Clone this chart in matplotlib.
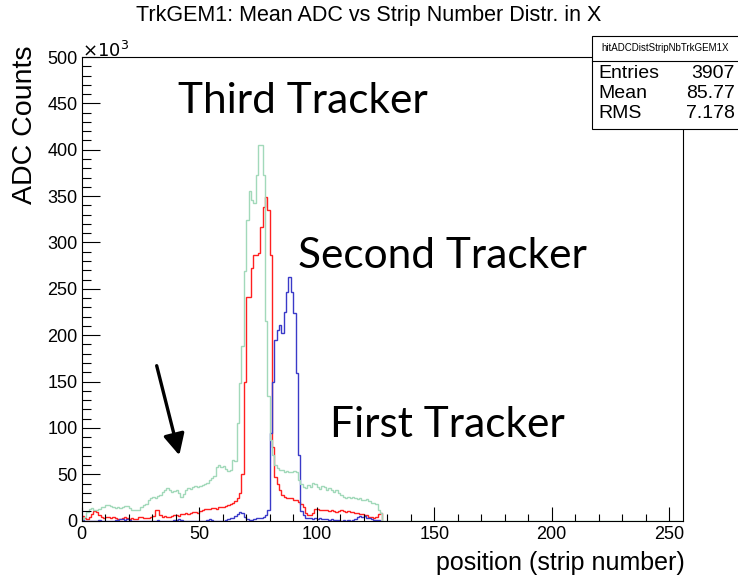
import matplotlib
matplotlib.use('Agg')
import matplotlib.pyplot as plt
import numpy as np
from matplotlib.patches import Rectangle
from matplotlib.lines import Line2D
from matplotlib.ticker import MultipleLocator

# ADC counts per strip, in units of 10^3, strips 0..127 (bins of 1 strip)
green_counts = [
    2, 4, 9, 13, 14, 11, 11, 13, 15, 15,
    17, 17, 16, 15, 14, 15, 14, 15, 16, 16,
    14, 12, 11, 11, 12, 15, 17, 18, 22, 24,
    26, 24, 27, 28, 31, 33, 35, 33, 31, 32,
    33, 30, 26, 29, 33, 35, 34, 36, 37, 36,
    37, 38, 40, 41, 44, 46, 48, 58, 60, 58,
    59, 56, 54, 55, 65, 64, 105, 148, 188, 269,
    324, 355, 346, 343, 373, 405, 405, 373, 215, 134,
    87, 71, 60, 57, 55, 55, 53, 54, 53, 52,
    54, 52, 44, 40, 36, 35, 38, 36, 41, 40,
    36, 34, 37, 36, 33, 35, 33, 31, 33, 30,
    28, 26, 25, 26, 25, 26, 25, 23, 24, 22,
    22, 23, 21, 19, 19, 18, 11, 8,
]
red_counts = [
    5, 3, 2, 4, 7, 10, 9, 6, 4, 3,
    4, 4, 3, 4, 3, 2, 2, 3, 4, 3,
    2, 3, 2, 2, 4, 4, 3, 3, 3, 4,
    5, 11, 11, 6, 4, 5, 4, 4, 5, 6,
    6, 5, 7, 7, 8, 7, 8, 9, 9, 8,
    10, 12, 13, 13, 13, 14, 14, 13, 15, 15,
    15, 16, 17, 18, 19, 21, 24, 30, 50, 150,
    241, 241, 272, 287, 287, 289, 317, 338, 349, 335,
    287, 80, 47, 40, 33, 28, 26, 25, 24, 24,
    22, 22, 20, 18, 15, 8, 6, 6, 8, 13,
    13, 12, 11, 12, 11, 10, 11, 10, 9, 10,
    11, 10, 9, 10, 9, 9, 8, 8, 7, 7,
    6, 6, 4, 4, 3, 4, 7, 8,
]
blue_counts = [
    1, 0, 0, 0, 0, 0, 0, 1, 0, 0,
    0, 0, 0, 0, 1, 1, 2, 2, 1, 2,
    1, 0, 0, 0, 0, 0, 0, 0, 0, 0,
    0, 0, 1, 0, 0, 0, 0, 0, 0, 1,
    1, 2, 1, 0, 0, 0, 0, 0, 0, 0,
    0, 0, 0, 1, 2, 1, 0, 0, 0, 0,
    0, 1, 2, 3, 3, 5, 7, 9, 8, 4,
    2, 1, 1, 2, 3, 3, 3, 4, 6, 12,
    95, 150, 195, 206, 211, 202, 225, 247, 263, 247,
    224, 159, 71, 10, 6, 3, 3, 3, 2, 3,
    2, 3, 2, 2, 2, 1, 2, 1, 1, 1,
    0, 1, 0, 1, 0, 1, 2, 4, 5, 4,
    5, 3, 3, 2, 1, 1, 1, 0,
]

n_strips = 256
stats_name = "hitADCDistStripNbTrkGEM1X"
stats_rows = [("Entries", "3907"), ("Mean", "85.77"), ("RMS", "7.178")]

W, H = 738, 581
def fx(x):
    return x / W
def fy(y):
    return 1 - y / H

root_font = ['Liberation Sans', 'DejaVu Sans']
plt.rcParams['font.family'] = root_font

fig = plt.figure(figsize=(W / 100, H / 100), dpi=100)
ax = fig.add_axes([fx(81.7), fy(520.7), (683.3 - 81.7) / W, (520.7 - 57) / H])

edges = np.arange(len(green_counts) + 1)
green_full = np.zeros(n_strips)
green_full[:len(green_counts)] = green_counts

ax.stairs(red_counts, edges, baseline=0, color='#ff2020', lw=1.0)
ax.stairs(blue_counts, edges, baseline=0, color='#3a3ac8', lw=1.0)
ax.stairs(green_full, np.arange(n_strips + 1), baseline=0, color='#a2d9ba', lw=1.0)

ax.set_xlim(0, n_strips)
ax.set_ylim(0, 500)
ax.xaxis.set_major_locator(MultipleLocator(50))
ax.xaxis.set_minor_locator(MultipleLocator(10))
ax.yaxis.set_major_locator(MultipleLocator(50))
ax.yaxis.set_minor_locator(MultipleLocator(10))
ax.tick_params(axis='x', which='major', direction='in', length=10, width=0.8, labelsize=13, pad=4)
ax.tick_params(axis='x', which='minor', direction='in', length=5, width=0.8)
ax.tick_params(axis='y', which='major', direction='in', length=13, width=0.8, labelsize=13, pad=3)
ax.tick_params(axis='y', which='minor', direction='in', length=6.5, width=0.8)
for s in ax.spines.values():
    s.set_linewidth(0.8)

ax.text(0.0, 1.0, r'$\times10^{3}$', transform=ax.transAxes, ha='left', va='baseline', fontsize=13)

fig.text(0.5, fy(16), 'TrkGEM1: Mean ADC vs Strip Number Distr. in X', ha='center', va='center', fontsize=15.5)
fig.text(fx(25), fy(45), 'ADC Counts', rotation=90, ha='center', va='top', fontsize=20.5)
fig.text(fx(685), fy(563), 'position (strip number)', ha='right', va='center', fontsize=18)

# stats box
fig.add_artist(Rectangle((fx(592), fy(129)), (760 - 592) / W, (129 - 36) / H,
                         transform=fig.transFigure, facecolor='white', edgecolor='black', lw=0.8, zorder=5))
fig.add_artist(Line2D([fx(592), fx(760)], [fy(61), fy(61)], transform=fig.transFigure, color='black', lw=0.8, zorder=6))
fig.text(fx(665), fy(48), stats_name, ha='center', va='center', fontsize=7, zorder=7)
for i, (k, v) in enumerate(stats_rows):
    yy = fy(73 + i * 20)
    fig.text(fx(598), yy, k, ha='left', va='center', fontsize=14, zorder=7)
    fig.text(fx(735), yy, v, ha='right', va='center', fontsize=14, zorder=7)

# annotations
note_font = ['Lato', 'DejaVu Sans']
fig.text(fx(178), fy(113), 'Third Tracker', ha='left', va='baseline', fontsize=30.5, family=note_font)
fig.text(fx(298), fy(268), 'Second Tracker', ha='left', va='baseline', fontsize=30.5, family=note_font)
fig.text(fx(330), fy(437), 'First Tracker', ha='left', va='baseline', fontsize=30.5, family=note_font)
ax.annotate('', xy=(180, H - 458), xytext=(156, H - 363), xycoords='figure pixels', textcoords='figure pixels',
            arrowprops=dict(arrowstyle='-|>', color='black', lw=2.4, mutation_scale=32))

fig.savefig('out.png', dpi=100)
